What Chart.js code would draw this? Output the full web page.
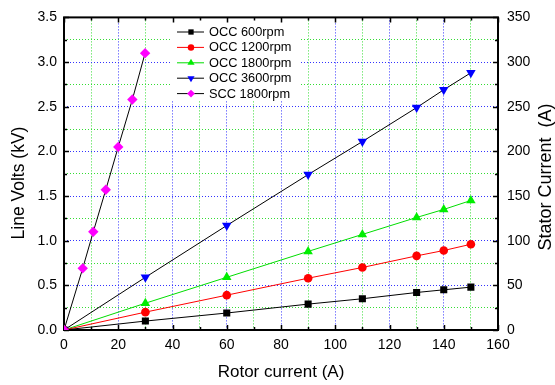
<!DOCTYPE html>
<html>
<head>
<meta charset="utf-8">
<script src="https://cdn.jsdelivr.net/npm/chart.js@4.4.0/dist/chart.umd.min.js"></script>
<style>
html, body { margin: 0; padding: 0; background: #fff; }
</style>
</head>
<body>
<canvas id="chart" width="555" height="385"></canvas>
<script>
// rotor current (A) for the open-circuit runs
const rotorOcc = [0, 30, 60, 90, 110, 130, 140, 150];
// line volts (kV)
const occ600 = [0, 0.10, 0.19, 0.29, 0.35, 0.42, 0.45, 0.48];
const occ1200 = [0, 0.20, 0.39, 0.58, 0.70, 0.83, 0.89, 0.96];
const occ1800 = [0, 0.30, 0.59, 0.88, 1.07, 1.26, 1.35, 1.45];
const occ3600 = [0, 0.59, 1.17, 1.74, 2.11, 2.49, 2.69, 2.88];
// short-circuit run: rotor current (A) vs stator current (A)
const rotorScc = [0, 6.9, 10.8, 15.4, 20, 25.2, 29.9];
const scc1800 = [0, 69, 110, 157, 205, 258, 310];

const seriesNames = ['OCC 600rpm', 'OCC 1200rpm', 'OCC 1800rpm', 'OCC 3600rpm', 'SCC 1800rpm'];

const FONT = 'Arial, "Liberation Sans", sans-serif';
const BLUE_GRID = '#3333ff';
const GREEN_GRID = '#33dd33';

function pts(xs, ys) {
    return xs.map((x, i) => ({ x: x, y: ys[i] }));
}

function gridColor(ctx, step, max) {
    const v = ctx.tick.value;
    if (Math.abs(v) < 1e-9 || Math.abs(v - max) < 1e-9) return 'rgba(0,0,0,0)';
    const r = v / step;
    return Math.abs(r - Math.round(r)) < 1e-6 ? BLUE_GRID : GREEN_GRID;
}

function makeSet(label, data, lineColor, markColor, style, radius, rotation, axis) {
    return {
        label: label,
        data: data,
        borderColor: lineColor,
        borderWidth: 1,
        backgroundColor: markColor,
        pointBackgroundColor: markColor,
        pointBorderColor: markColor,
        pointBorderWidth: 0,
        pointStyle: style,
        pointRadius: radius,
        pointRotation: rotation,
        tension: 0,
        clip: 0,
        yAxisID: axis,
        order: axis === 'y2' ? 0 : 1
    };
}

// legend, frame, inward ticks and axis titles
const decorations = {
    id: 'decorations',
    beforeDatasetsDraw(chart) {
        const { ctx, chartArea: a, scales } = chart;
        ctx.save();
        // white legend box
        ctx.fillStyle = '#fff';
        ctx.fillRect(170, 13, 130, 88);

        // frame
        ctx.strokeStyle = '#000';
        ctx.lineWidth = 2;
        ctx.strokeRect(a.left, a.top, a.right - a.left, a.bottom - a.top);

        // inward ticks
        ctx.lineWidth = 1.5;
        ctx.beginPath();
        scales.x.ticks.forEach(t => {
            const p = Math.round(scales.x.getPixelForValue(t.value)) + 0.5;
            const len = t.label !== '' ? 5 : 3;
            ctx.moveTo(p, a.bottom); ctx.lineTo(p, a.bottom - len);
            ctx.moveTo(p, a.top); ctx.lineTo(p, a.top + len);
        });
        scales.y.ticks.forEach(t => {
            const p = Math.round(scales.y.getPixelForValue(t.value)) + 0.5;
            const len = t.label !== '' ? 5 : 3;
            ctx.moveTo(a.left, p); ctx.lineTo(a.left + len, p);
        });
        scales.y2.ticks.forEach(t => {
            const p = Math.round(scales.y2.getPixelForValue(t.value)) + 0.5;
            const len = t.label !== '' ? 5 : 3;
            ctx.moveTo(a.right, p); ctx.lineTo(a.right - len, p);
        });
        ctx.stroke();

        // axis titles
        ctx.fillStyle = '#000';
        ctx.font = '17px ' + FONT;
        ctx.textAlign = 'center';
        ctx.textBaseline = 'middle';
        ctx.fillText('Rotor current (A)', (a.left + a.right) / 2, 372);
        ctx.font = '17.5px ' + FONT;
        ctx.save();
        ctx.translate(19, 183);
        ctx.rotate(-Math.PI / 2);
        ctx.fillText('Line Volts (kV)', 0, 0);
        ctx.restore();
        ctx.font = '18px ' + FONT;
        ctx.save();
        ctx.translate(546, 177);
        ctx.rotate(-Math.PI / 2);
        ctx.fillText('Stator Current  (A)', 0, 0);
        ctx.restore();
        ctx.restore();
    },
    afterDatasetsDraw(chart) {
        const { ctx } = chart;
        ctx.save();
        ctx.font = '12.8px ' + FONT;
        ctx.textAlign = 'left';
        ctx.textBaseline = 'middle';
        chart.data.datasets.forEach((ds, i) => {
            const y = 32 + i * 15.4;
            ctx.strokeStyle = ds.borderColor;
            ctx.lineWidth = 1;
            ctx.beginPath();
            ctx.moveTo(177, y);
            ctx.lineTo(204, y);
            ctx.stroke();
            ctx.fillStyle = ds.pointBackgroundColor;
            ctx.strokeStyle = ds.pointBorderColor;
            Chart.helpers.drawPoint(ctx, {
                pointStyle: ds.pointStyle,
                radius: ds.pointRadius * 0.75,
                rotation: ds.pointRotation,
                borderWidth: 0
            }, 191, y);
            ctx.fillStyle = '#000';
            ctx.fillText(ds.label, 209, y + 0.5);
        });
        ctx.restore();
    }
};

new Chart(document.getElementById('chart'), {
    type: 'line',
    data: {
        datasets: [
            makeSet(seriesNames[0], pts(rotorOcc, occ600), '#000000', '#000000', 'rect', 5, 0, 'y'),
            makeSet(seriesNames[1], pts(rotorOcc, occ1200), '#ff0000', '#ff0000', 'circle', 4.3, 0, 'y'),
            makeSet(seriesNames[2], pts(rotorOcc, occ1800), '#00dd00', '#00ee00', 'triangle', 5.5, 0, 'y'),
            makeSet(seriesNames[3], pts(rotorOcc, occ3600), '#000000', '#0000ff', 'triangle', 5.5, 180, 'y'),
            makeSet(seriesNames[4], pts(rotorScc, scc1800), '#000000', '#ff00ff', 'rectRot', 5.2, 0, 'y2')
        ]
    },
    options: {
        responsive: false,
        animation: false,
        layout: { padding: { top: 11, left: 0, right: 0, bottom: 0 } },
        plugins: {
            legend: { display: false },
            tooltip: { enabled: false }
        },
        scales: {
            x: {
                type: 'linear',
                min: 0,
                max: 160,
                afterFit: s => { s.height = 55; },
                ticks: {
                    stepSize: 10,
                    autoSkip: false,
                    maxRotation: 0,
                    padding: 7,
                    color: '#000',
                    font: { family: FONT, size: 14 },
                    callback: v => (v % 20 === 0 ? String(v) : '')
                },
                grid: {
                    drawTicks: false,
                    lineWidth: 1,
                    color: ctx => gridColor(ctx, 20, 160)
                },
                border: { display: false, dash: [1, 2] }
            },
            y: {
                type: 'linear',
                position: 'left',
                min: 0,
                max: 3.5,
                afterFit: s => { s.width = 64; },
                ticks: {
                    stepSize: 0.25,
                    autoSkip: false,
                    padding: 7,
                    color: '#000',
                    font: { family: FONT, size: 14 },
                    callback: v => {
                        const r = v / 0.5;
                        return Math.abs(r - Math.round(r)) < 1e-6 ? v.toFixed(1) : '';
                    }
                },
                grid: {
                    drawTicks: false,
                    lineWidth: 1,
                    color: ctx => gridColor(ctx, 0.5, 3.5)
                },
                border: { display: false, dash: [1, 2] }
            },
            y2: {
                type: 'linear',
                position: 'right',
                min: 0,
                max: 350,
                afterFit: s => { s.width = 57; },
                ticks: {
                    stepSize: 25,
                    autoSkip: false,
                    padding: 9,
                    color: '#000',
                    font: { family: FONT, size: 14 },
                    callback: v => (v % 50 === 0 ? String(v) : '')
                },
                grid: { drawOnChartArea: false, drawTicks: false },
                border: { display: false }
            }
        }
    },
    plugins: [decorations]
});
</script>
</body>
</html>
